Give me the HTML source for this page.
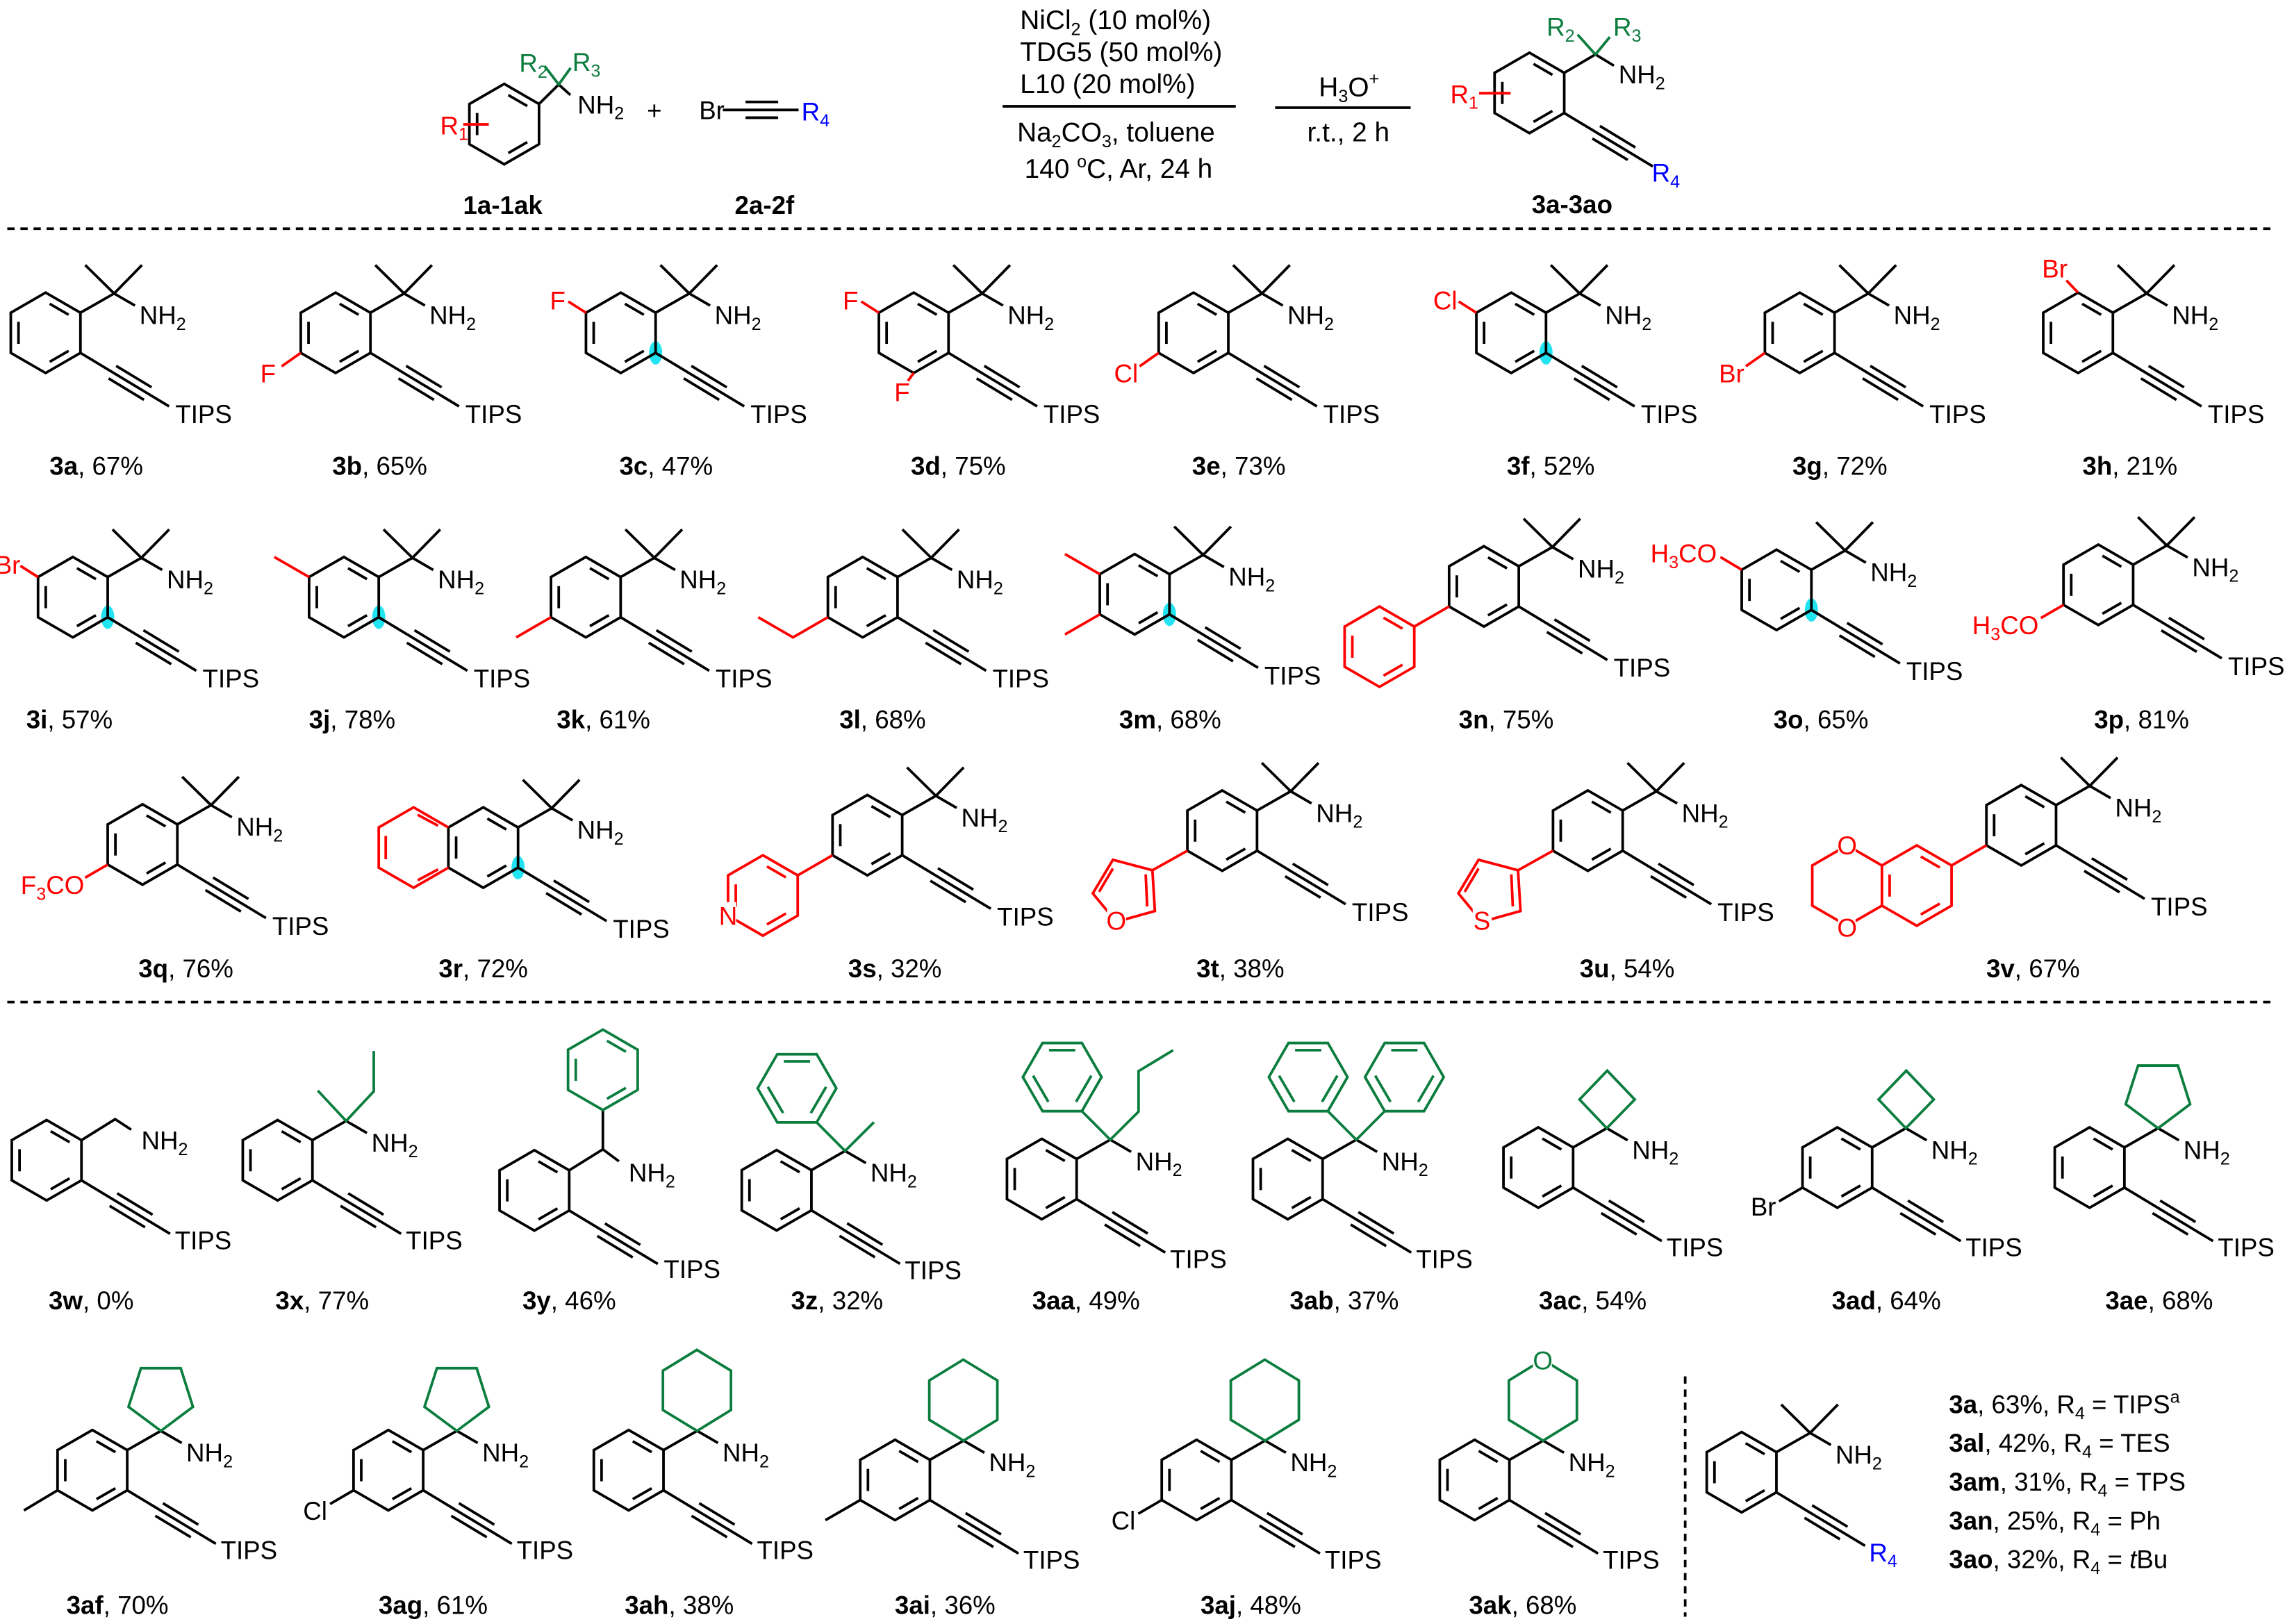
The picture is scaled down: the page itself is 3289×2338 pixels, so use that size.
<!DOCTYPE html>
<html><head><meta charset="utf-8"><style>
html,body{margin:0;padding:0;background:#fff;}
svg{display:block;}
text{font-family:"Liberation Sans",Arial,sans-serif;font-size:17.5px;fill:#000;stroke:none !important;}
.r text,text.r{fill:#f00;} .g text,text.g{fill:#0b7d3e;} text.b{fill:#00f;}
text.c{font-size:18.5px;}
line,polyline,polygon,path{fill:none;stroke-width:1.8;}
.k{stroke:#000;} .r{stroke:#f00;} .g{stroke:#0b7d3e;} .b{stroke:#00f;}
</style></head><body>
<svg width="3289" height="2338" viewBox="0 0 1568 1115" preserveAspectRatio="none" xmlns="http://www.w3.org/2000/svg" xmlns:xlink="http://www.w3.org/1999/xlink">
<defs>
<g id="ring"><polygon points="0,-27.6 23.9,-13.8 23.9,13.8 0,27.6 -23.9,13.8 -23.9,-13.8"/><line x1="2.8" y1="-19.9" x2="15.8" y2="-12.4"/><line x1="-18.6" y1="7.6" x2="-18.6" y2="-7.6"/><line x1="15.8" y1="12.4" x2="2.8" y2="19.9"/></g>
<g id="alk"><line x1="23.9" y1="13.8" x2="84.7" y2="50.5"/><line x1="43.2" y1="31.3" x2="67.5" y2="46"/><line x1="48.4" y1="22.7" x2="72.7" y2="37.4"/></g>
<g id="cq"><polyline points="23.9,-13.8 47,-27 61.3,-18.7"/></g>
<g id="me2"><polyline points="27.2,-46.5 47,-27 66.1,-46.5"/></g>
<g id="core"><use xlink:href="#ring"/><use xlink:href="#alk"/><use xlink:href="#cq"/></g>
<ellipse id="cy" cx="23.9" cy="13.8" rx="4.5" ry="8" fill="#22e3f0" stroke="none"/>
<polygon id="cb" points="47,-27 28.3,-46.7 47.3,-66.5 66.2,-46.7"/>
<polygon id="cp" points="47,-27 24.8,-43.5 33.3,-70 60.6,-70 69,-43.5"/>
<polygon id="ch" points="47,-27 23.5,-41.3 23.5,-68.3 46.8,-82.6 70.2,-68.3 70.2,-41.3"/>
<g id="fph"><polygon points="27,0 13.5,23.4 -13.5,23.4 -27,0 -13.5,-23.4 13.5,-23.4"/><line x1="-9" y1="-18.5" x2="9" y2="-18.5"/><line x1="9.5" y1="17" x2="20" y2="-1"/><line x1="-9.5" y1="17" x2="-20" y2="-1"/></g>
</defs>

<!-- HEADER -->
<g transform="translate(346,85.2)">
 <use xlink:href="#ring" class="k"/>
 <line class="k" x1="23.9" y1="-13.8" x2="37.4" y2="-27.2"/>
 <line class="k" x1="37.4" y1="-27.2" x2="45.4" y2="-20"/>
 <polyline class="g" points="27.7,-39.9 37.4,-27.2 45.6,-38.6"/>
 <line class="r" x1="-28.1" y1="0.2" x2="-10.6" y2="0.2"/>
 <text x="50.3" y="-7.3">NH<tspan dy="4" font-size="12">2</tspan></text>
 <text class="g" x="10.3" y="-35.9">R<tspan dy="4" font-size="12">2</tspan></text>
 <text class="g" x="46.8" y="-36.6">R<tspan dy="4" font-size="12">3</tspan></text>
 <text class="r" x="-44" y="7">R<tspan dy="4" font-size="12">1</tspan></text>
</g>
<text x="345" y="147" text-anchor="middle" font-weight="bold">1a-1ak</text>
<text x="449" y="82" text-anchor="middle">+</text>
<text x="479.7" y="81.9">Br</text>
<line class="k" x1="496" y1="75.5" x2="548" y2="75.5"/>
<line class="k" x1="511.6" y1="70" x2="534" y2="70"/>
<line class="k" x1="511.6" y1="80.8" x2="534" y2="80.8"/>
<text class="b" x="550" y="82.7">R<tspan dy="4" font-size="12">4</tspan></text>
<text x="524.6" y="147" text-anchor="middle" font-weight="bold">2a-2f</text>

<text class="c" x="700" y="20">NiCl<tspan dy="4" font-size="12">2</tspan><tspan dy="-4">  (10 mol%)</tspan></text>
<text class="c" x="700" y="42">TDG5 (50 mol%)</text>
<text class="c" x="700" y="64">L10 (20 mol%)</text>
<line class="k" x1="688" y1="73" x2="848" y2="73"/>
<polygon points="858,73 842,66.5 845,73 842,79.5" fill="#000" stroke="none"/>
<text class="c" x="698" y="97">Na<tspan dy="4" font-size="12">2</tspan><tspan dy="-4">CO</tspan><tspan dy="4" font-size="12">3</tspan><tspan dy="-4">, toluene</tspan></text>
<text class="c" x="703" y="122">140 <tspan dy="-7" font-size="12">o</tspan><tspan dy="7">C, Ar, 24 h</tspan></text>
<line class="k" x1="875" y1="73.9" x2="968" y2="73.9"/>
<polygon points="977.7,73.9 961.7,67.4 964.7,73.9 961.7,80.4" fill="#000" stroke="none"/>
<text class="c" x="905" y="66">H<tspan dy="4" font-size="12">3</tspan><tspan dy="-4">O</tspan><tspan dy="-8" font-size="12">+</tspan></text>
<text class="c" x="897" y="97">r.t., 2 h</text>

<g transform="translate(1049.5,63.8)">
 <use xlink:href="#ring" class="k"/><use xlink:href="#alk" class="k"/>
 <line class="k" x1="23.9" y1="-13.8" x2="45.3" y2="-26.4"/>
 <line class="k" x1="45.3" y1="-26.4" x2="58" y2="-18.7"/>
 <polyline class="g" points="33.1,-40 45.3,-26.4 55.2,-38.4"/>
 <line class="r" x1="-34.5" y1="0.2" x2="-12.9" y2="0.2"/>
 <text x="61.2" y="-6.6">NH<tspan dy="4" font-size="12">2</tspan></text>
 <text class="g" x="11.8" y="-39.2">R<tspan dy="4" font-size="12">2</tspan></text>
 <text class="g" x="57.5" y="-39.2">R<tspan dy="4" font-size="12">3</tspan></text>
 <text class="r" x="-54.3" y="6.9">R<tspan dy="4" font-size="12">1</tspan></text>
 <text class="b" x="84" y="61">R<tspan dy="4" font-size="12">4</tspan></text>
</g>
<text x="1078.8" y="146.3" text-anchor="middle" font-weight="bold">3a-3ao</text>

<line class="k" x1="5" y1="157" x2="1562" y2="157" stroke-width="1.5" stroke-dasharray="5 4"/>
<line class="k" x1="5" y1="688" x2="1562" y2="688" stroke-width="1.5" stroke-dasharray="5 4"/>
<line class="k" x1="1156.4" y1="945" x2="1156.4" y2="1110" stroke-width="1.5" stroke-dasharray="5 4"/>

<!-- ROW 1 -->
<g transform="translate(31.3,228.5)"><use xlink:href="#core" class="k"/><use xlink:href="#me2" class="k"/><text x="64.4" y="-6">NH<tspan dy="4" font-size="12">2</tspan></text><text x="89" y="62">TIPS</text></g>
<g transform="translate(230.3,228.5)"><use xlink:href="#core" class="k"/><use xlink:href="#me2" class="k"/><text x="64.4" y="-6">NH<tspan dy="4" font-size="12">2</tspan></text><text x="89" y="62">TIPS</text>
 <line class="r" x1="-23.9" y1="13.8" x2="-37" y2="23"/><text class="r" x="-41" y="34" text-anchor="end">F</text></g>
<g transform="translate(426,228.5)"><use xlink:href="#cy"/><use xlink:href="#core" class="k"/><use xlink:href="#me2" class="k"/><text x="64.4" y="-6">NH<tspan dy="4" font-size="12">2</tspan></text><text x="89" y="62">TIPS</text>
 <line class="r" x1="-23.9" y1="-13.8" x2="-36" y2="-21.5"/><text class="r" x="-38" y="-16" text-anchor="end">F</text></g>
<g transform="translate(627,228.5)"><use xlink:href="#core" class="k"/><use xlink:href="#me2" class="k"/><text x="64.4" y="-6">NH<tspan dy="4" font-size="12">2</tspan></text><text x="89" y="62">TIPS</text>
 <line class="r" x1="-23.9" y1="-13.8" x2="-36" y2="-21.5"/><text class="r" x="-38" y="-16" text-anchor="end">F</text>
 <line class="r" x1="0" y1="27.6" x2="-4" y2="33"/><text class="r" x="-8" y="47" text-anchor="middle">F</text></g>
<g transform="translate(819,228.5)"><use xlink:href="#core" class="k"/><use xlink:href="#me2" class="k"/><text x="64.4" y="-6">NH<tspan dy="4" font-size="12">2</tspan></text><text x="89" y="62">TIPS</text>
 <line class="r" x1="-23.9" y1="13.8" x2="-37" y2="23"/><text class="r" x="-38" y="34" text-anchor="end">Cl</text></g>
<g transform="translate(1037,228.5)"><use xlink:href="#cy"/><use xlink:href="#core" class="k"/><use xlink:href="#me2" class="k"/><text x="64.4" y="-6">NH<tspan dy="4" font-size="12">2</tspan></text><text x="89" y="62">TIPS</text>
 <line class="r" x1="-23.9" y1="-13.8" x2="-36" y2="-21.5"/><text class="r" x="-37" y="-16" text-anchor="end">Cl</text></g>
<g transform="translate(1235,228.5)"><use xlink:href="#core" class="k"/><use xlink:href="#me2" class="k"/><text x="64.4" y="-6">NH<tspan dy="4" font-size="12">2</tspan></text><text x="89" y="62">TIPS</text>
 <line class="r" x1="-23.9" y1="13.8" x2="-37" y2="23"/><text class="r" x="-38" y="34" text-anchor="end">Br</text></g>
<g transform="translate(1426,228.5)"><use xlink:href="#core" class="k"/><use xlink:href="#me2" class="k"/><text x="64.4" y="-6">NH<tspan dy="4" font-size="12">2</tspan></text><text x="89" y="62">TIPS</text>
 <line class="r" x1="0" y1="-27.6" x2="-8" y2="-36"/><text class="r" x="-16" y="-38" text-anchor="middle">Br</text></g>

<text x="34" y="326"><tspan font-weight="bold">3a</tspan>, 67%</text>
<text x="228" y="326"><tspan font-weight="bold">3b</tspan>, 65%</text>
<text x="425" y="326"><tspan font-weight="bold">3c</tspan>, 47%</text>
<text x="625" y="326"><tspan font-weight="bold">3d</tspan>, 75%</text>
<text x="818" y="326"><tspan font-weight="bold">3e</tspan>, 73%</text>
<text x="1034" y="326"><tspan font-weight="bold">3f</tspan>, 52%</text>
<text x="1230" y="326"><tspan font-weight="bold">3g</tspan>, 72%</text>
<text x="1429" y="326"><tspan font-weight="bold">3h</tspan>, 21%</text>

<!-- ROW 2 -->
<g transform="translate(50,410)"><use xlink:href="#cy"/><use xlink:href="#core" class="k"/><use xlink:href="#me2" class="k"/><text x="64.4" y="-6">NH<tspan dy="4" font-size="12">2</tspan></text><text x="89" y="62">TIPS</text>
 <line class="r" x1="-23.9" y1="-13.8" x2="-36" y2="-21.5"/><text class="r" x="-36" y="-16" text-anchor="end">Br</text></g>
<g transform="translate(236,410)"><use xlink:href="#cy"/><use xlink:href="#core" class="k"/><use xlink:href="#me2" class="k"/><text x="64.4" y="-6">NH<tspan dy="4" font-size="12">2</tspan></text><text x="89" y="62">TIPS</text>
 <line class="r" x1="-23.9" y1="-13.8" x2="-47.8" y2="-27.6"/></g>
<g transform="translate(402,410)"><use xlink:href="#core" class="k"/><use xlink:href="#me2" class="k"/><text x="64.4" y="-6">NH<tspan dy="4" font-size="12">2</tspan></text><text x="89" y="62">TIPS</text>
 <line class="r" x1="-23.9" y1="13.8" x2="-47.8" y2="27.6"/></g>
<g transform="translate(592,410)"><use xlink:href="#core" class="k"/><use xlink:href="#me2" class="k"/><text x="64.4" y="-6">NH<tspan dy="4" font-size="12">2</tspan></text><text x="89" y="62">TIPS</text>
 <polyline class="r" points="-23.9,13.8 -47.8,27.6 -71.7,13.8"/></g>
<g transform="translate(778.6,408)"><use xlink:href="#cy"/><use xlink:href="#core" class="k"/><use xlink:href="#me2" class="k"/><text x="64.4" y="-6">NH<tspan dy="4" font-size="12">2</tspan></text><text x="89" y="62">TIPS</text>
 <line class="r" x1="-23.9" y1="13.8" x2="-47.8" y2="27.6"/><line class="r" x1="-23.9" y1="-13.8" x2="-47.8" y2="-27.6"/></g>
<g transform="translate(1018.3,402.6)"><use xlink:href="#core" class="k"/><use xlink:href="#me2" class="k"/><text x="64.4" y="-6">NH<tspan dy="4" font-size="12">2</tspan></text><text x="89" y="62">TIPS</text>
 <line class="r" x1="-23.9" y1="13.8" x2="-47.8" y2="27.6"/><use xlink:href="#ring" class="r" transform="translate(-71.7,41.4)"/></g>
<g transform="translate(1219.1,405)"><use xlink:href="#cy"/><use xlink:href="#core" class="k"/><use xlink:href="#me2" class="k"/><text x="64.4" y="-6">NH<tspan dy="4" font-size="12">2</tspan></text><text x="89" y="62">TIPS</text>
 <line class="r" x1="-23.9" y1="-13.8" x2="-38.5" y2="-22.5"/><text class="r" x="-41" y="-19" text-anchor="end">H<tspan dy="4" font-size="12">3</tspan><tspan dy="-4">CO</tspan></text></g>
<g transform="translate(1439.9,401.5)"><use xlink:href="#core" class="k"/><use xlink:href="#me2" class="k"/><text x="64.4" y="-6">NH<tspan dy="4" font-size="12">2</tspan></text><text x="89" y="62">TIPS</text>
 <line class="r" x1="-23.9" y1="13.8" x2="-39.4" y2="22.8"/><text class="r" x="-41" y="34" text-anchor="end">H<tspan dy="4" font-size="12">3</tspan><tspan dy="-4">CO</tspan></text></g>

<text x="18" y="500"><tspan font-weight="bold">3i</tspan>, 57%</text>
<text x="212" y="500"><tspan font-weight="bold">3j</tspan>, 78%</text>
<text x="382" y="500"><tspan font-weight="bold">3k</tspan>, 61%</text>
<text x="576" y="500"><tspan font-weight="bold">3l</tspan>, 68%</text>
<text x="768" y="500"><tspan font-weight="bold">3m</tspan>, 68%</text>
<text x="1001" y="500"><tspan font-weight="bold">3n</tspan>, 75%</text>
<text x="1217" y="500"><tspan font-weight="bold">3o</tspan>, 65%</text>
<text x="1437" y="500"><tspan font-weight="bold">3p</tspan>, 81%</text>

<!-- ROW 3 -->
<g transform="translate(97.8,579.8)"><use xlink:href="#core" class="k"/><use xlink:href="#me2" class="k"/><text x="64.4" y="-6">NH<tspan dy="4" font-size="12">2</tspan></text><text x="89" y="62">TIPS</text>
 <line class="r" x1="-23.9" y1="13.8" x2="-39.4" y2="22.8"/><text class="r" x="-40" y="34" text-anchor="end">F<tspan dy="4" font-size="12">3</tspan><tspan dy="-4">CO</tspan></text></g>
<g transform="translate(331.6,581.9)"><use xlink:href="#cy"/><use xlink:href="#core" class="k"/><use xlink:href="#me2" class="k"/><text x="64.4" y="-6">NH<tspan dy="4" font-size="12">2</tspan></text><text x="89" y="62">TIPS</text>
 <polyline class="r" points="-23.9,-13.8 -47.8,-27.6 -71.7,-13.8 -71.7,13.8 -47.8,27.6 -23.9,13.8"/>
 <line class="r" x1="-66.9" y1="-8" x2="-66.9" y2="8"/><line class="r" x1="-31" y1="-15" x2="-45" y2="-22.5"/><line class="r" x1="-31" y1="15" x2="-45" y2="22.5"/></g>
<g transform="translate(595.2,573.4)"><use xlink:href="#core" class="k"/><use xlink:href="#me2" class="k"/><text x="64.4" y="-6">NH<tspan dy="4" font-size="12">2</tspan></text><text x="89" y="62">TIPS</text>
 <line class="r" x1="-23.9" y1="13.8" x2="-47.8" y2="27.6"/><use xlink:href="#ring" class="r" transform="translate(-71.7,41.4)"/>
 <rect x="-101" y="46" width="11" height="17" fill="#fff"/><text class="r" x="-95.6" y="61.5" text-anchor="middle">N</text></g>
<g transform="translate(838.7,570.3)"><use xlink:href="#core" class="k"/><use xlink:href="#me2" class="k"/><text x="64.4" y="-6">NH<tspan dy="4" font-size="12">2</tspan></text><text x="89" y="62">TIPS</text>
 <line class="r" x1="-23.9" y1="13.8" x2="-47.9" y2="27.2"/>
 <polygon class="r" points="-47.9,27.2 -75,20 -88.8,43.1 -72.7,62.6 -46.2,55.2"/><line class="r" x1="-75" y1="26" x2="-84.5" y2="42"/><line class="r" x1="-52.5" y1="30" x2="-51.5" y2="52"/>
 <rect x="-79" y="51" width="13" height="17" fill="#fff"/><text class="r" x="-72.7" y="68" text-anchor="middle">O</text></g>
<g transform="translate(1089.6,570.3)"><use xlink:href="#core" class="k"/><use xlink:href="#me2" class="k"/><text x="64.4" y="-6">NH<tspan dy="4" font-size="12">2</tspan></text><text x="89" y="62">TIPS</text>
 <line class="r" x1="-23.9" y1="13.8" x2="-47.9" y2="27.2"/>
 <polygon class="r" points="-47.9,27.2 -75,20 -88.8,43.1 -72.7,62.6 -46.2,55.2"/><line class="r" x1="-75" y1="26" x2="-84.5" y2="42"/><line class="r" x1="-52.5" y1="30" x2="-51.5" y2="52"/>
 <rect x="-79" y="51" width="13" height="17" fill="#fff"/><text class="r" x="-72.7" y="68" text-anchor="middle">S</text></g>
<g transform="translate(1387,566.6)"><use xlink:href="#core" class="k"/><use xlink:href="#me2" class="k"/><text x="64.4" y="-6">NH<tspan dy="4" font-size="12">2</tspan></text><text x="89" y="62">TIPS</text>
 <line class="r" x1="-23.9" y1="13.8" x2="-47.8" y2="27.6"/>
 <g transform="translate(-71.7,41.4)"><use xlink:href="#ring" class="r"/><polyline class="r" points="-23.9,-13.8 -47.8,-27.6 -71.7,-13.8 -71.7,13.8 -47.8,27.6 -23.9,13.8"/>
 <rect x="-54" y="-37" width="12" height="17" fill="#fff"/><text class="r" x="-47.8" y="-21.5" text-anchor="middle">O</text>
 <rect x="-54" y="20" width="12" height="17" fill="#fff"/><text class="r" x="-47.8" y="35" text-anchor="middle">O</text></g></g>

<text x="95" y="671"><tspan font-weight="bold">3q</tspan>, 76%</text>
<text x="301" y="671"><tspan font-weight="bold">3r</tspan>, 72%</text>
<text x="582" y="671"><tspan font-weight="bold">3s</tspan>, 32%</text>
<text x="821" y="671"><tspan font-weight="bold">3t</tspan>, 38%</text>
<text x="1084" y="671"><tspan font-weight="bold">3u</tspan>, 54%</text>
<text x="1363" y="671"><tspan font-weight="bold">3v</tspan>, 67%</text>

<!-- ROW 4 -->
<g transform="translate(32,796.6)"><use xlink:href="#ring" class="k"/><use xlink:href="#alk" class="k"/><polyline class="k" points="23.9,-13.8 47,-28.2 58,-21"/><text x="65" y="-7.6">NH<tspan dy="4" font-size="12">2</tspan></text><text x="88" y="61">TIPS</text></g>
<g transform="translate(190.5,796.6)"><use xlink:href="#core" class="k"/><polyline class="g" points="27.6,-47.8 47,-27 66,-47.3 66,-75"/><text x="64.4" y="-6">NH<tspan dy="4" font-size="12">2</tspan></text><text x="88" y="61">TIPS</text></g>
<g transform="translate(366.7,817.3)"><use xlink:href="#ring" class="k"/><use xlink:href="#alk" class="k"/><polyline class="k" points="23.9,-13.8 47,-28.2 58,-20"/><line class="k" x1="47" y1="-28.2" x2="47" y2="-55.2"/><use xlink:href="#ring" class="g" transform="translate(47,-82.8)"/><text x="64.7" y="-6">NH<tspan dy="4" font-size="12">2</tspan></text><text x="88.8" y="60.3">TIPS</text></g>
<g transform="translate(532.9,817.2)"><use xlink:href="#core" class="k"/><polyline class="g" points="27.5,-46.6 47,-27 66.8,-46.7"/><use xlink:href="#fph" class="g" transform="translate(14,-70)"/><text x="64.4" y="-6">NH<tspan dy="4" font-size="12">2</tspan></text><text x="88" y="61">TIPS</text></g>
<g transform="translate(714.9,809.5)"><use xlink:href="#core" class="k"/><polyline class="g" points="27.5,-46.6 47,-27 66.4,-46.3 66.4,-74.1 90.1,-88.4"/><use xlink:href="#fph" class="g" transform="translate(14,-70)"/><text x="64.4" y="-6">NH<tspan dy="4" font-size="12">2</tspan></text><text x="88" y="61">TIPS</text></g>
<g transform="translate(883.7,809.5)"><use xlink:href="#core" class="k"/><polyline class="g" points="27.5,-46.6 47,-27 66.5,-46.6"/><use xlink:href="#fph" class="g" transform="translate(14,-70)"/><use xlink:href="#fph" class="g" transform="translate(80,-70) scale(-1,1)"/><text x="64.4" y="-6">NH<tspan dy="4" font-size="12">2</tspan></text><text x="88" y="61">TIPS</text></g>
<g transform="translate(1055.6,801.6)"><use xlink:href="#core" class="k"/><use xlink:href="#cb" class="g"/><text x="64.4" y="-6">NH<tspan dy="4" font-size="12">2</tspan></text><text x="88" y="61">TIPS</text></g>
<g transform="translate(1260.8,801.6)"><use xlink:href="#core" class="k"/><use xlink:href="#cb" class="g"/><text x="64.4" y="-6">NH<tspan dy="4" font-size="12">2</tspan></text><text x="88" y="61">TIPS</text>
 <line class="k" x1="-23.9" y1="13.8" x2="-40" y2="23.2"/><text x="-42" y="33" text-anchor="end">Br</text></g>
<g transform="translate(1433.9,801.6)"><use xlink:href="#core" class="k"/><use xlink:href="#cp" class="g"/><text x="64.4" y="-6">NH<tspan dy="4" font-size="12">2</tspan></text><text x="88" y="61">TIPS</text></g>

<text x="33.4" y="899"><tspan font-weight="bold">3w</tspan>, 0%</text>
<text x="189" y="899"><tspan font-weight="bold">3x</tspan>, 77%</text>
<text x="358.5" y="899"><tspan font-weight="bold">3y</tspan>, 46%</text>
<text x="542.8" y="899"><tspan font-weight="bold">3z</tspan>, 32%</text>
<text x="708.3" y="899"><tspan font-weight="bold">3aa</tspan>, 49%</text>
<text x="885" y="899"><tspan font-weight="bold">3ab</tspan>, 37%</text>
<text x="1056" y="899"><tspan font-weight="bold">3ac</tspan>, 54%</text>
<text x="1257" y="899"><tspan font-weight="bold">3ad</tspan>, 64%</text>
<text x="1444.7" y="899"><tspan font-weight="bold">3ae</tspan>, 68%</text>

<!-- ROW 5 -->
<g transform="translate(63.4,1009.4)"><use xlink:href="#core" class="k"/><use xlink:href="#cp" class="g"/><text x="64.4" y="-6">NH<tspan dy="4" font-size="12">2</tspan></text><text x="88" y="61">TIPS</text>
 <line class="k" x1="-23.9" y1="13.8" x2="-47" y2="27.6"/></g>
<g transform="translate(266.5,1009.4)"><use xlink:href="#core" class="k"/><use xlink:href="#cp" class="g"/><text x="64.4" y="-6">NH<tspan dy="4" font-size="12">2</tspan></text><text x="88" y="61">TIPS</text>
 <line class="k" x1="-23.9" y1="13.8" x2="-40" y2="23.2"/><text x="-42" y="34" text-anchor="end">Cl</text></g>
<g transform="translate(431.4,1009.4)"><use xlink:href="#core" class="k"/><use xlink:href="#ch" class="g"/><text x="64.4" y="-6">NH<tspan dy="4" font-size="12">2</tspan></text><text x="88" y="61">TIPS</text></g>
<g transform="translate(614.2,1016.1)"><use xlink:href="#core" class="k"/><use xlink:href="#ch" class="g"/><text x="64.4" y="-6">NH<tspan dy="4" font-size="12">2</tspan></text><text x="88" y="61">TIPS</text>
 <line class="k" x1="-23.9" y1="13.8" x2="-47.8" y2="27.6"/></g>
<g transform="translate(821.1,1016.1)"><use xlink:href="#core" class="k"/><use xlink:href="#ch" class="g"/><text x="64.4" y="-6">NH<tspan dy="4" font-size="12">2</tspan></text><text x="88" y="61">TIPS</text>
 <line class="k" x1="-23.9" y1="13.8" x2="-40" y2="23.2"/><text x="-42" y="34" text-anchor="end">Cl</text></g>
<g transform="translate(1011.9,1016.1)"><use xlink:href="#core" class="k"/><use xlink:href="#ch" class="g"/><rect x="40" y="-92" width="13" height="18" fill="#fff"/><text class="g" x="46.8" y="-76" text-anchor="middle">O</text><text x="64.4" y="-6">NH<tspan dy="4" font-size="12">2</tspan></text><text x="88" y="61">TIPS</text></g>
<g transform="translate(1195.1,1010.8)"><use xlink:href="#core" class="k"/><use xlink:href="#me2" class="k"/><text x="64.4" y="-6">NH<tspan dy="4" font-size="12">2</tspan></text><text class="b" x="87.5" y="61.2">R<tspan dy="4" font-size="12">4</tspan></text></g>

<text x="45.6" y="1108"><tspan font-weight="bold">3af</tspan>, 70%</text>
<text x="259.8" y="1108"><tspan font-weight="bold">3ag</tspan>, 61%</text>
<text x="428.7" y="1108"><tspan font-weight="bold">3ah</tspan>, 38%</text>
<text x="614" y="1108"><tspan font-weight="bold">3ai</tspan>, 36%</text>
<text x="823.8" y="1108"><tspan font-weight="bold">3aj</tspan>, 48%</text>
<text x="1008" y="1108"><tspan font-weight="bold">3ak</tspan>, 68%</text>

<text x="1337.4" y="970.2"><tspan font-weight="bold">3a</tspan>, 63%, R<tspan dy="4" font-size="12">4</tspan><tspan dy="-4"> = TIPS</tspan><tspan dy="-7" font-size="12">a</tspan></text>
<text x="1337.4" y="996.7"><tspan font-weight="bold">3al</tspan>, 42%, R<tspan dy="4" font-size="12">4</tspan><tspan dy="-4"> = TES</tspan></text>
<text x="1337.4" y="1023.5"><tspan font-weight="bold">3am</tspan>, 31%, R<tspan dy="4" font-size="12">4</tspan><tspan dy="-4"> = TPS</tspan></text>
<text x="1337.4" y="1050.2"><tspan font-weight="bold">3an</tspan>, 25%, R<tspan dy="4" font-size="12">4</tspan><tspan dy="-4"> = Ph</tspan></text>
<text x="1337.4" y="1076.7"><tspan font-weight="bold">3ao</tspan>, 32%, R<tspan dy="4" font-size="12">4</tspan><tspan dy="-4"> = </tspan><tspan font-style="italic">t</tspan>Bu</text>
</svg>
</body></html>
